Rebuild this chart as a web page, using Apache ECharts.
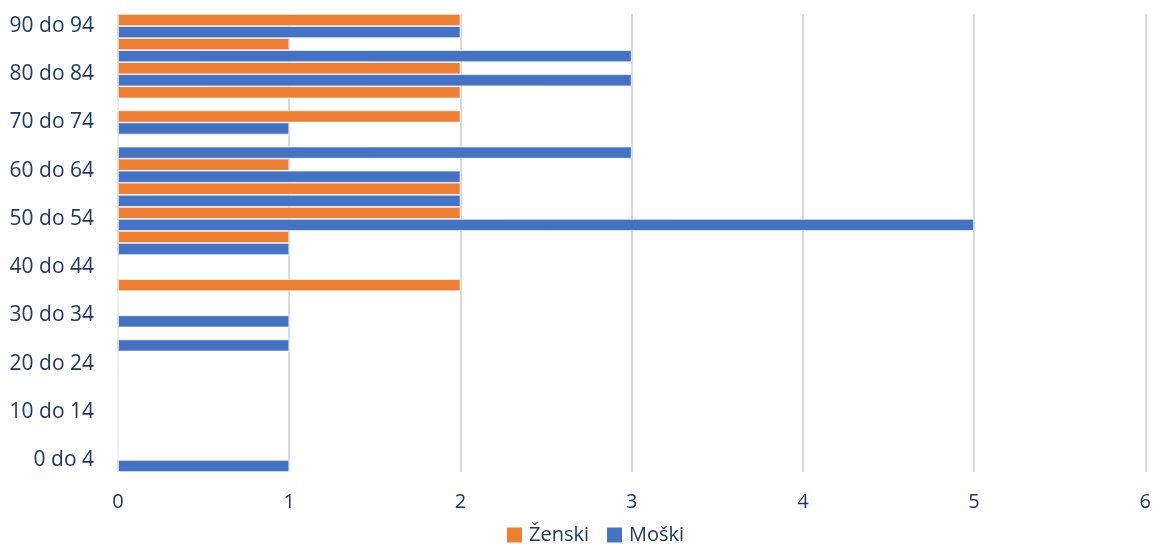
<!DOCTYPE html>
<html>
<head>
<meta charset="utf-8">
<script src="https://cdn.jsdelivr.net/npm/echarts@6/dist/echarts.min.js"></script>
<style>
  html, body { margin: 0; padding: 0; background: #fff; }
  #chart { width: 1154px; height: 544px; }
</style>
</head>
<body>
<div id="chart"></div>
<script>
// Age groups, youngest first (bottom of the chart)
const ageGroups = [
  '0 do 4', '5 do 9', '10 do 14', '15 do 19', '20 do 24', '25 do 29',
  '30 do 34', '35 do 39', '40 do 44', '45 do 49', '50 do 54', '55 do 59',
  '60 do 64', '65 do 69', '70 do 74', '75 do 79', '80 do 84', '85 do 89',
  '90 do 94'
];
const seriesNames = ['Ženski', 'Moški'];
const zenski = [0, 0, 0, 0, 0, 0, 0, 2, 0, 1, 2, 2, 1, 0, 2, 2, 2, 1, 2];
const moski  = [1, 0, 0, 0, 0, 1, 1, 0, 0, 1, 5, 2, 2, 3, 1, 0, 3, 3, 2];
const valueTicks = { min: 0, max: 6, interval: 1 };

const textColor = '#1f3864';
const font = '"Open Sans", sans-serif';

const chart = echarts.init(document.getElementById('chart'), null, { renderer: 'canvas' });
chart.setOption({
  animation: false,
  backgroundColor: '#fff',
  grid: { left: 118, right: 8, top: 14, bottom: 72, containLabel: false },
  legend: {
    data: seriesNames,
    top: 520,
    left: 502,
    icon: 'rect',
    itemWidth: 15,
    itemHeight: 15,
    itemGap: 18,
    itemStyle: { borderWidth: 0 },
    textStyle: { color: textColor, fontSize: 20, fontFamily: font, padding: [0, 0, 0, 2] }
  },
  xAxis: {
    type: 'value',
    min: valueTicks.min,
    max: valueTicks.max,
    interval: valueTicks.interval,
    axisLine: { show: false },
    axisTick: { show: false },
    axisLabel: { color: textColor, fontSize: 20, fontFamily: font, margin: 20 },
    splitLine: { show: true, lineStyle: { color: '#d9d9d9', width: 2 } }
  },
  yAxis: {
    type: 'category',
    data: ageGroups,
    axisLine: { show: false },
    axisTick: { show: false },
    axisLabel: { color: textColor, fontSize: 21, fontFamily: font, margin: 24, interval: 1 },
    splitLine: { show: false }
  },
  series: [
    {
      name: seriesNames[0],
      type: 'bar',
      data: zenski,
      itemStyle: { color: '#ed7d31', borderColor: '#ffffff', borderWidth: 0.7 },
      barGap: '0%',
      barCategoryGap: '0%'
    },
    {
      name: seriesNames[1],
      type: 'bar',
      data: moski,
      itemStyle: { color: '#4472c4', borderColor: '#ffffff', borderWidth: 0.7 },
      barGap: '0%',
      barCategoryGap: '0%'
    }
  ]
});
</script>
</body>
</html>
